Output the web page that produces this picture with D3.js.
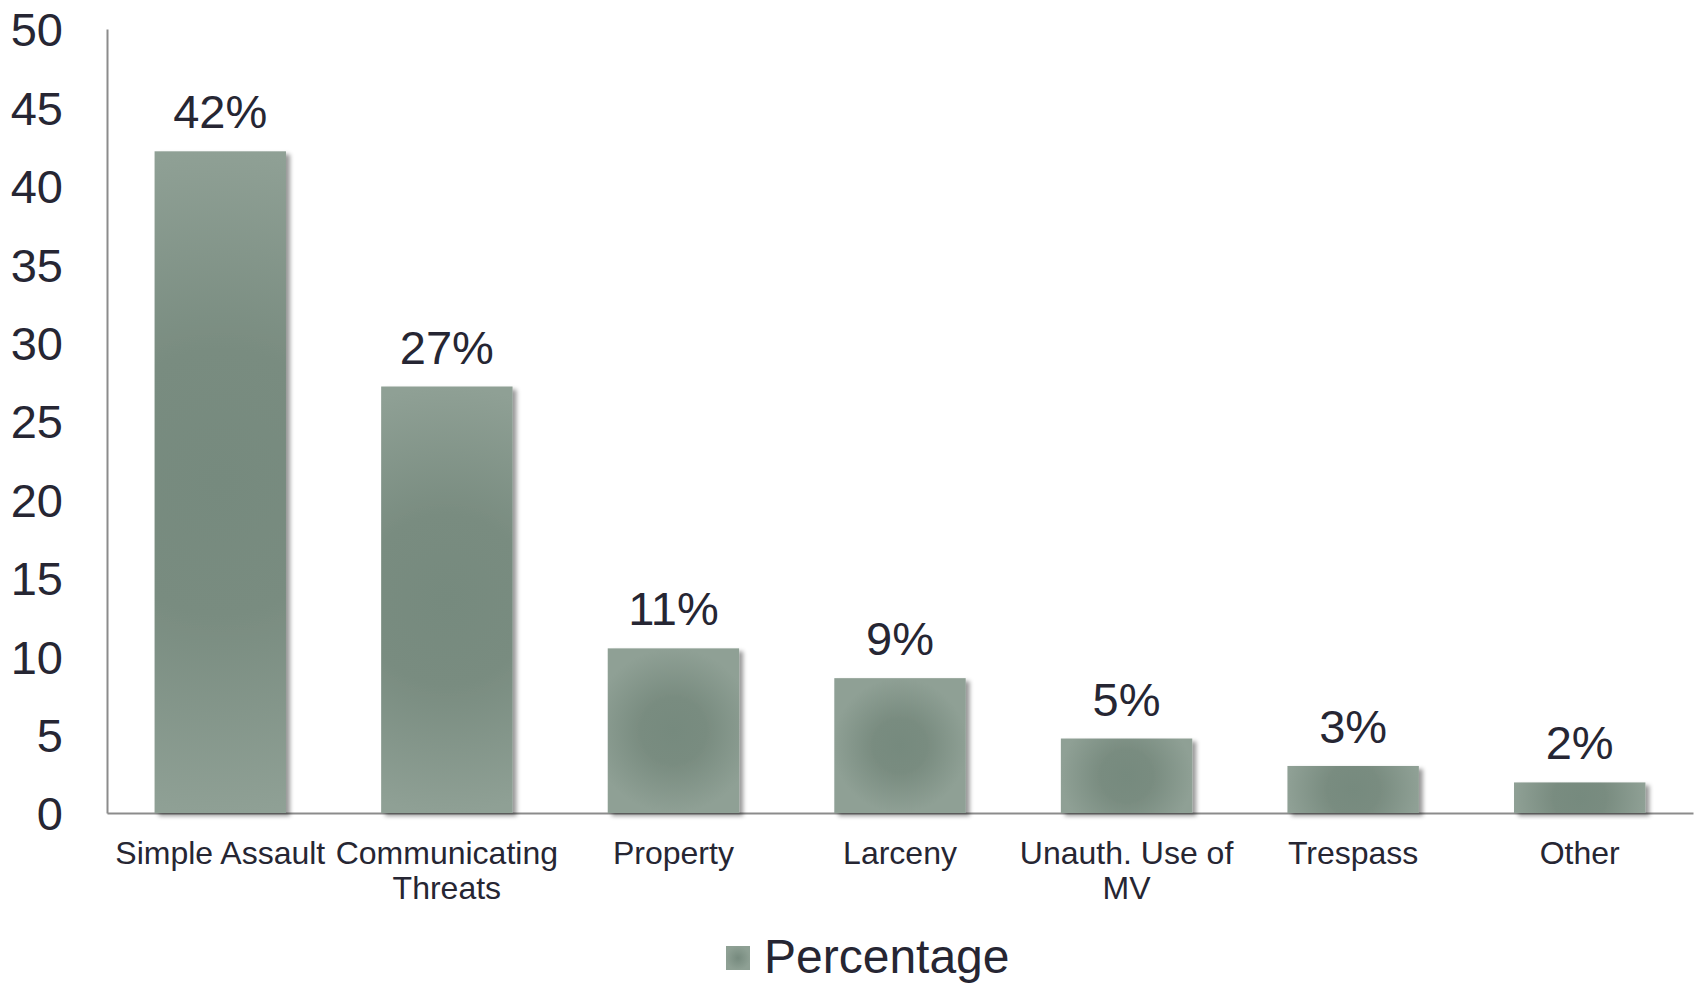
<!DOCTYPE html>
<html>
<head>
<meta charset="utf-8">
<script src="https://cdn.jsdelivr.net/npm/d3@7"></script>
<style>
    body { margin: 0; background: #ffffff; }
    #chart-area text { font-family: "Liberation Sans", Arial, sans-serif; fill: #262633; }
</style>
</head>
<body>
<div id="chart-area"></div>
<script>

// offence categories and their share
let categories = ['Simple Assault', 'Communicating Threats', 'Property', 'Larceny', 'Unauth. Use of MV', 'Trespass', 'Other'];
let percentages = [42.2, 27.2, 10.5, 8.6, 4.75, 3.0, 1.95];
let yTicks = [0, 5, 10, 15, 20, 25, 30, 35, 40, 45, 50];
let seriesName = 'Percentage';


class BarChart {

    constructor(parentElement, data) {
        this.parentElement = parentElement;
        this.data = data;

        this.initVis()
    }

    initVis() {

        let vis = this;

        vis.margin = {top: 29, right: 5, bottom: 170, left: 107};
        vis.width = 1698 - vis.margin.left - vis.margin.right;
        vis.height = 983 - vis.margin.top - vis.margin.bottom;

        // drawing area
        vis.root = d3.select('#' + vis.parentElement).append('svg')
            .attr('width', 1698)
            .attr('height', 983);

        vis.defs = vis.root.append('defs');

        // legend swatch fill
        let legendGrad = vis.defs.append('radialGradient')
            .attr('id', 'legendFill')
            .attr('cx', '50%').attr('cy', '50%').attr('r', '50%');
        legendGrad.append('stop').attr('offset', '0%').attr('stop-color', '#768a7e');
        legendGrad.append('stop').attr('offset', '100%').attr('stop-color', '#8ea094');

        let shadow = vis.defs.append('filter')
            .attr('id', 'barShadow')
            .attr('x', '-10%').attr('y', '-10%')
            .attr('width', '130%').attr('height', '130%');
        shadow.append('feDropShadow')
            .attr('dx', 4).attr('dy', 3)
            .attr('stdDeviation', 2)
            .attr('flood-color', '#000')
            .attr('flood-opacity', 0.4);

        vis.svg = vis.root.append('g')
            .attr('transform', `translate (${vis.margin.left}, ${vis.margin.top})`);

        // scales and axes
        vis.xScale = d3.scaleBand()
            .range([0, vis.width])
            .paddingInner(0.42)
            .paddingOuter(0.21);

        vis.yScale = d3.scaleLinear()
            .domain([0, 50])
            .range([vis.height, 0]);

        vis.xAxisGroup = vis.svg.append('g')
            .attr('class', 'x-axis axis')
            .attr('transform', 'translate(0, ' + vis.height + ')');

        vis.yAxisGroup = vis.svg.append('g')
            .attr('class', 'y-axis axis');

        this.wrangleData()
    }

    wrangleData() {

        let vis = this;

        vis.displayData = categories.map((c, i) => ({category: c, value: vis.data[i], id: 'barFill' + i}));

        vis.updateVis()
    }

    updateVis() {

        let vis = this;

        vis.xScale.domain(vis.displayData.map(d => d.category));

        // y axis: no ticks, only line and labels
        vis.yAxisGroup
            .call(d3.axisLeft(vis.yScale).tickValues(yTicks).tickSize(0).tickPadding(44));
        vis.yAxisGroup.select('.domain')
            .attr('stroke', '#8c8c8c')
            .attr('stroke-width', 2);
        vis.yAxisGroup.selectAll('text')
            .style('font-size', '47px')
            .attr('dy', '0.36em');

        // one round gradient per bar, circle sized on the bar's longer side
        let grads = vis.defs.selectAll('.bar-grad')
            .data(vis.displayData)
            .enter()
            .append('radialGradient')
            .attr('class', 'bar-grad')
            .attr('id', d => d.id)
            .attr('gradientUnits', 'userSpaceOnUse')
            .attr('cx', d => vis.xScale(d.category) + vis.xScale.bandwidth() / 2)
            .attr('cy', d => (vis.yScale(d.value) + vis.height) / 2)
            .attr('r', d => Math.max(vis.xScale.bandwidth(), vis.height - vis.yScale(d.value)) / 2);
        grads.append('stop').attr('offset', '0%').attr('stop-color', '#768a7e');
        grads.append('stop').attr('offset', '40%').attr('stop-color', '#798c80');
        grads.append('stop').attr('offset', '100%').attr('stop-color', '#8fa095');

        // bars
        vis.svg.selectAll('.bar')
            .data(vis.displayData)
            .enter()
            .append('rect')
            .attr('class', 'bar')
            .attr('x', d => vis.xScale(d.category))
            .attr('y', d => vis.yScale(d.value))
            .attr('width', vis.xScale.bandwidth())
            .attr('height', d => vis.height - vis.yScale(d.value))
            .attr('fill', d => 'url(#' + d.id + ')')
            .attr('filter', 'url(#barShadow)');

        // x axis drawn after bars so the line sits on top
        vis.xAxisGroup
            .call(d3.axisBottom(vis.xScale).tickSize(0).tickPadding(28));
        vis.xAxisGroup.select('.domain')
            .attr('stroke', '#8c8c8c')
            .attr('stroke-width', 2);
        vis.xAxisGroup.selectAll('text')
            .style('font-size', '32px')
            .call(wrap, vis.xScale.step());

        // value labels
        vis.svg.selectAll('.value-label')
            .data(vis.displayData)
            .enter()
            .append('text')
            .attr('class', 'value-label')
            .attr('x', d => vis.xScale(d.category) + vis.xScale.bandwidth() / 2)
            .attr('y', d => vis.yScale(d.value) - 23)
            .attr('text-anchor', 'middle')
            .style('font-size', '47px')
            .text(d => Math.round(d.value) + '%');

        // legend
        let legend = vis.root.append('g')
            .attr('transform', 'translate(726, 946)');
        legend.append('rect')
            .attr('width', 24)
            .attr('height', 24)
            .attr('fill', 'url(#legendFill)');
        legend.append('text')
            .attr('x', 38)
            .attr('y', 27)
            .style('font-size', '48px')
            .text(seriesName);
    }
}

// wrap tick labels onto several lines
function wrap(texts, width) {
    texts.each(function () {
        let text = d3.select(this);
        let words = text.text().split(/\s+/);
        let y = text.attr('y');
        let dy = parseFloat(text.attr('dy'));
        let line = [];
        let lineNumber = 0;
        let lineHeight = 1.1;
        let tspan = text.text(null).append('tspan').attr('x', 0).attr('y', y).attr('dy', dy + 'em');
        words.forEach(word => {
            line.push(word);
            tspan.text(line.join(' '));
            if (tspan.node().getComputedTextLength() > width && line.length > 1) {
                line.pop();
                tspan.text(line.join(' '));
                line = [word];
                tspan = text.append('tspan')
                    .attr('x', 0).attr('y', y)
                    .attr('dy', (++lineNumber * lineHeight + dy) + 'em')
                    .text(word);
            }
        });
    });
}

new BarChart('chart-area', percentages);

</script>
</body>
</html>
